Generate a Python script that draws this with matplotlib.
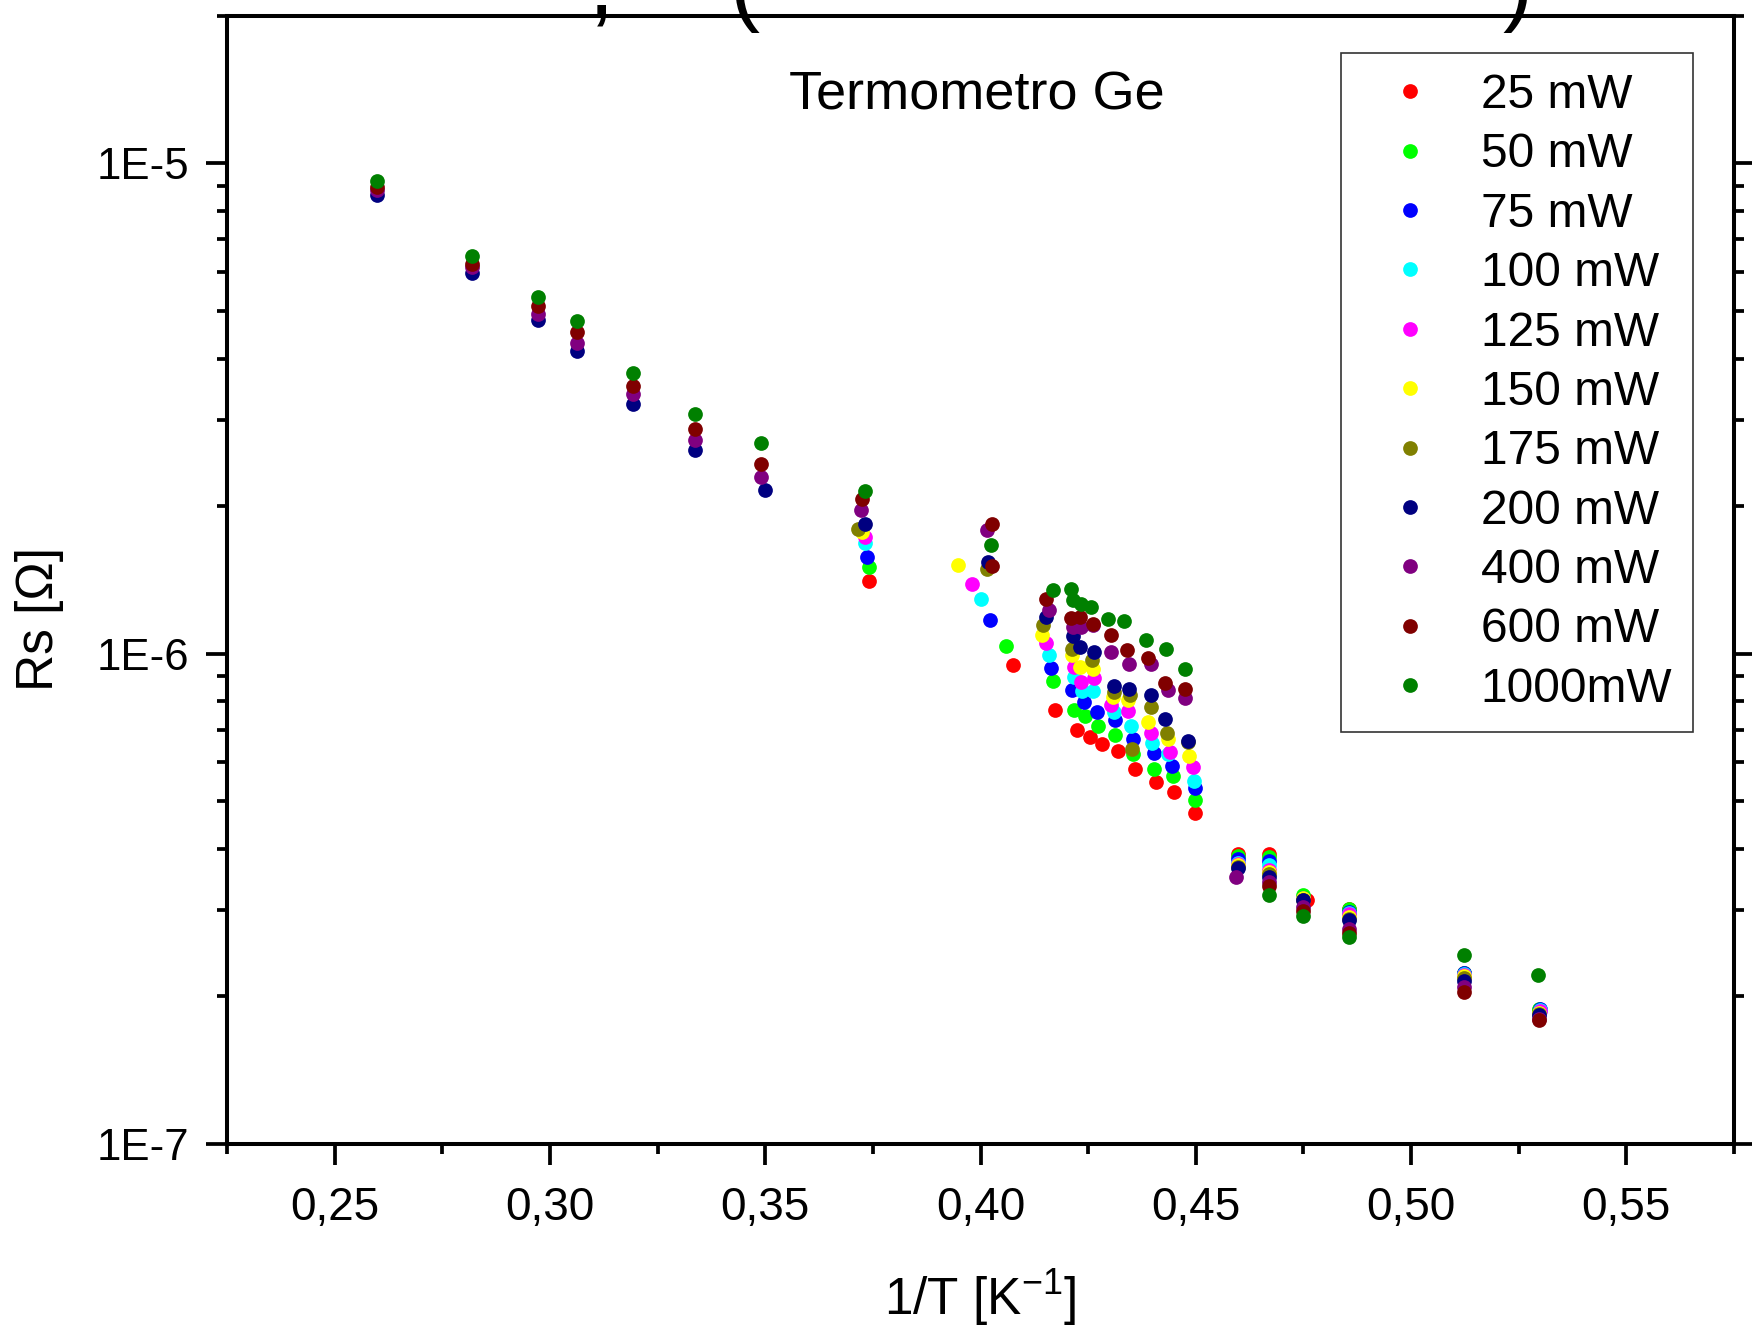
import numpy as np
import matplotlib
matplotlib.use("Agg")
import matplotlib.pyplot as plt
from matplotlib.ticker import MultipleLocator, LogLocator, FuncFormatter, NullFormatter

plt.rcParams['font.family'] = ['Liberation Sans', 'DejaVu Sans']
plt.rcParams['mathtext.fontset'] = 'custom'
plt.rcParams['mathtext.rm'] = 'Liberation Sans'
plt.rcParams['mathtext.it'] = 'Liberation Sans:italic'

# series labels and colours (legend order)
labels = ['25 mW', '50 mW', '75 mW', '100 mW', '125 mW', '150 mW',
          '175 mW', '200 mW', '400 mW', '600 mW', '1000mW']
colors = ['#ff0000', '#00ff00', '#0000ff', '#00ffff', '#ff00ff', '#ffff00',
          '#808000', '#000080', '#800080', '#800000', '#008000']

# 1/T [K^-1]
x_25 = [0.3742, 0.4075, 0.4172, 0.4224, 0.4255, 0.4283, 0.4320, 0.4358, 0.4408, 0.4450, 0.4499,
        0.4599, 0.4669, 0.4758, 0.4857, 0.5124, 0.5297]
x_50 = [0.3740, 0.4060, 0.4168, 0.4218, 0.4243, 0.4272, 0.4313, 0.4355, 0.4402, 0.4447, 0.4498,
        0.4599, 0.4669, 0.4748, 0.4857, 0.5124, 0.5297]
x_75 = [0.3737, 0.4023, 0.4163, 0.4212, 0.4240, 0.4271, 0.4312, 0.4354, 0.4402, 0.4445, 0.4498,
        0.4599, 0.4669, 0.4748, 0.4857, 0.5124, 0.5300]
x_100 = [0.3731, 0.4000, 0.4160, 0.4216, 0.4235, 0.4261, 0.4309, 0.4350, 0.4399, 0.4435, 0.4495,
         0.4599, 0.4669, 0.4748, 0.4857, 0.5124, 0.5300]
x_125 = [0.3731, 0.3981, 0.4151, 0.4216, 0.4234, 0.4263, 0.4303, 0.4342, 0.4395, 0.4440, 0.4493,
         0.4599, 0.4669, 0.4748, 0.4857, 0.5124, 0.5299]
x_150 = [0.3725, 0.3948, 0.4142, 0.4213, 0.4230, 0.4262, 0.4307, 0.4342, 0.4388, 0.4435, 0.4484,
         0.4599, 0.4669, 0.4748, 0.4857, 0.5124, 0.5298]
x_175 = [0.3716, 0.4015, 0.4145, 0.4212, 0.4259, 0.4309, 0.4347, 0.4351, 0.4395, 0.4433, 0.4481,
         0.4599, 0.4669, 0.4748, 0.4857, 0.5124, 0.5298]
x_200 = [0.2599, 0.2818, 0.2972, 0.3062, 0.3194, 0.3338, 0.3499, 0.3731, 0.4018, 0.4153, 0.4214,
         0.4230, 0.4263, 0.4309, 0.4344, 0.4396, 0.4429, 0.4481, 0.4599, 0.4669, 0.4748, 0.4857,
         0.5124, 0.5297]
x_400 = [0.2599, 0.2818, 0.2972, 0.3062, 0.3194, 0.3338, 0.3491, 0.3722, 0.4015, 0.4160, 0.4214,
         0.4234, 0.4262, 0.4304, 0.4344, 0.4396, 0.4435, 0.4475, 0.4594, 0.4669, 0.4748, 0.4857,
         0.5124, 0.5297]
x_600 = [0.2599, 0.2818, 0.2972, 0.3062, 0.3194, 0.3338, 0.3491, 0.3725, 0.4027, 0.4027, 0.4151,
         0.4211, 0.4232, 0.4262, 0.4302, 0.4340, 0.4389, 0.4429, 0.4474, 0.4669, 0.4748, 0.4857,
         0.5124, 0.5297]
x_1000 = [0.2599, 0.2818, 0.2972, 0.3062, 0.3194, 0.3338, 0.3491, 0.3731, 0.4025, 0.4168, 0.4211,
          0.4214, 0.4234, 0.4257, 0.4296, 0.4334, 0.4385, 0.4430, 0.4474, 0.4669, 0.4748, 0.4857,
          0.5124, 0.5294]

# Rs [Ohm]
r_25 = [1.405e-6, 9.47e-7, 7.69e-7, 6.98e-7, 6.76e-7, 6.535e-7, 6.33e-7, 5.82e-7, 5.48e-7, 5.22e-7,
        4.73e-7, 3.91e-7, 3.91e-7, 3.14e-7, 3.01e-7, 2.235e-7, 1.88e-7]
r_50 = [1.50e-6, 1.036e-6, 8.79e-7, 7.67e-7, 7.45e-7, 7.11e-7, 6.82e-7, 6.24e-7, 5.83e-7, 5.62e-7,
        5.02e-7, 3.87e-7, 3.85e-7, 3.22e-7, 3.01e-7, 2.235e-7, 1.882e-7]
r_75 = [1.575e-6, 1.17e-6, 9.35e-7, 8.42e-7, 7.97e-7, 7.61e-7, 7.32e-7, 6.71e-7, 6.26e-7, 5.90e-7,
        5.32e-7, 3.81e-7, 3.78e-7, 3.17e-7, 2.975e-7, 2.235e-7, 1.885e-7]
r_100 = [1.68e-6, 1.29e-6, 9.95e-7, 8.97e-7, 8.40e-7, 8.40e-7, 7.61e-7, 7.12e-7, 6.59e-7, 6.23e-7,
         5.50e-7, 3.75e-7, 3.71e-7, 3.16e-7, 2.96e-7, 2.225e-7, 1.875e-7]
r_125 = [1.73e-6, 1.39e-6, 1.054e-6, 9.40e-7, 8.76e-7, 8.94e-7, 7.85e-7, 7.63e-7, 6.89e-7, 6.30e-7,
         5.88e-7, 3.73e-7, 3.62e-7, 3.16e-7, 2.94e-7, 2.215e-7, 1.865e-7]
r_150 = [1.77e-6, 1.515e-6, 1.091e-6, 9.95e-7, 9.40e-7, 9.29e-7, 8.16e-7, 8.04e-7, 7.26e-7, 6.71e-7,
         6.18e-7, 3.71e-7, 3.59e-7, 3.18e-7, 2.91e-7, 2.20e-7, 1.85e-7]
r_175 = [1.80e-6, 1.49e-6, 1.143e-6, 1.024e-6, 9.69e-7, 8.36e-7, 8.24e-7, 6.40e-7, 7.79e-7, 6.89e-7,
         6.61e-7, 3.68e-7, 3.55e-7, 3.15e-7, 2.88e-7, 2.18e-7, 1.84e-7]
r_200 = [8.61e-6, 5.99e-6, 4.80e-6, 4.14e-6, 3.23e-6, 2.60e-6, 2.16e-6, 1.84e-6, 1.54e-6, 1.19e-6,
         1.085e-6, 1.032e-6, 1.008e-6, 8.61e-7, 8.49e-7, 8.25e-7, 7.36e-7, 6.64e-7, 3.65e-7, 3.51e-7,
         3.14e-7, 2.86e-7, 2.15e-7, 1.83e-7]
r_400 = [8.81e-6, 6.15e-6, 4.94e-6, 4.31e-6, 3.38e-6, 2.73e-6, 2.29e-6, 1.96e-6, 1.79e-6, 1.23e-6,
         1.134e-6, 1.134e-6, 1.143e-6, 1.008e-6, 9.54e-7, 9.52e-7, 8.45e-7, 8.14e-7, 3.50e-7, 3.43e-7,
         3.04e-7, 2.75e-7, 2.09e-7, 1.80e-7]
r_600 = [8.95e-6, 6.25e-6, 5.12e-6, 4.54e-6, 3.51e-6, 2.87e-6, 2.44e-6, 2.07e-6, 1.84e-6, 1.51e-6,
         1.29e-6, 1.18e-6, 1.19e-6, 1.15e-6, 1.094e-6, 1.016e-6, 9.81e-7, 8.73e-7, 8.49e-7, 3.36e-7,
         2.99e-7, 2.69e-7, 2.04e-7, 1.79e-7]
r_1000 = [9.23e-6, 6.49e-6, 5.34e-6, 4.77e-6, 3.74e-6, 3.08e-6, 2.69e-6, 2.15e-6, 1.67e-6, 1.347e-6,
          1.357e-6, 1.289e-6, 1.265e-6, 1.245e-6, 1.176e-6, 1.166e-6, 1.065e-6, 1.021e-6, 9.29e-7,
          3.22e-7, 2.92e-7, 2.64e-7, 2.43e-7, 2.21e-7]

xs = [x_25, x_50, x_75, x_100, x_125, x_150, x_175, x_200, x_400, x_600, x_1000]
rs = [r_25, r_50, r_75, r_100, r_125, r_150, r_175, r_200, r_400, r_600, r_1000]

fig = plt.figure(figsize=(17.52, 13.26), dpi=100)
ax = fig.add_axes([0.1296, 0.1373, 0.8601, 0.8507])

for x, r, c, lab in zip(xs, rs, colors, labels):
    ax.plot(x, r, 'o', color=c, markersize=10.6, markeredgewidth=0, label=lab)

ax.set_yscale('log')
ax.set_xlim(0.225, 0.575)
ax.set_ylim(1e-7, 2e-5)

ax.xaxis.set_major_locator(MultipleLocator(0.05))
ax.xaxis.set_minor_locator(MultipleLocator(0.025))
ax.xaxis.set_major_formatter(FuncFormatter(lambda v, p: f"{v:.2f}".replace('.', ',')))
ax.yaxis.set_major_locator(LogLocator(base=10, numticks=10))
ax.yaxis.set_minor_locator(LogLocator(base=10, subs=np.arange(2, 10), numticks=20))
ax.yaxis.set_major_formatter(FuncFormatter(lambda v, p: f"1E{int(round(np.log10(v)))}"))
ax.yaxis.set_minor_formatter(NullFormatter())

ax.tick_params(which='both', direction='out', width=2.7, top=False, right=True,
               labelright=False)
ax.tick_params(which='major', length=15)
ax.tick_params(which='minor', length=7.5)
ax.tick_params(axis='x', which='major', pad=15, labelsize=33)
ax.tick_params(axis='y', which='major', pad=12, labelsize=31.5)
for s in ax.spines.values():
    s.set_linewidth(2.9)

ax.set_xlabel('1/T [K$^{-1}$]', fontsize=37)
ax.xaxis.set_label_coords(0.5, -0.110)
ax.xaxis.label.set_va('top')
ax.set_ylabel('Rs [Ω]', fontsize=37)
ax.yaxis.set_label_coords(-0.108, 0.465)

ax.text(0.4973, 0.9167, 'Termometro Ge', transform=ax.transAxes, fontsize=39,
        ha='center', va='baseline')

leg = ax.legend(loc='upper left', bbox_to_anchor=(0.7392, 0.9672), borderaxespad=0,
                fontsize=34.5, numpoints=1, markerscale=1.0, handlelength=2.06,
                handletextpad=0.44, labelspacing=0.3, borderpad=0.42,
                frameon=True, fancybox=False, shadow=False)
leg.get_frame().set_edgecolor('black')
leg.get_frame().set_linewidth(1.2)

# bottoms of the cut-off title above the frame
for tx, ch in [(601, ','), (744, '('), (1518, ')')]:
    fig.text(tx / 1752, 1 - 14 / 1326, ch, fontsize=65, ha='center', va='baseline')

fig.savefig('out.png', dpi=100)
